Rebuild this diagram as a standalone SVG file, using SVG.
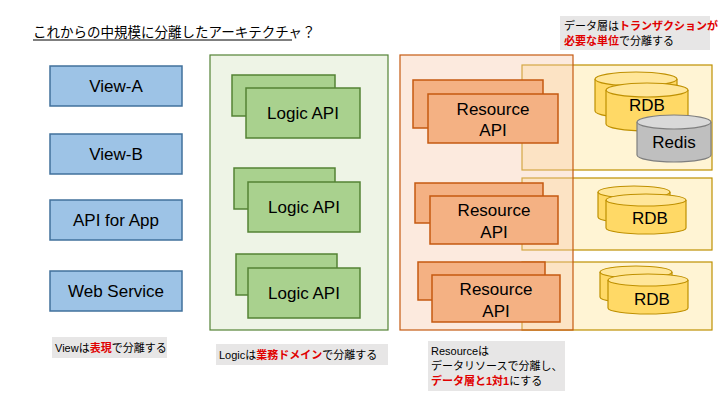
<svg xmlns="http://www.w3.org/2000/svg" width="720" height="405" viewBox="0 0 720 405">
<style>
text{font-family:"Liberation Sans","Noto Sans CJK JP",sans-serif;fill:#000}
.v{fill:#9dc3e6;stroke:#41719c;stroke-width:1.5}
.l{fill:#a9d18e;stroke:#548235;stroke-width:1.5}
.r{fill:#f4b183;stroke:#c55a11;stroke-width:1.5}
.n{fill:#e7e6e6}
.red{fill:#e00000;font-weight:bold}
.big{font-size:17px;text-anchor:middle}
.s{font-size:11px}
.cy{fill:#ffd966;stroke:#bf9000;stroke-width:1.2}
.cyt{fill:#ffe699;stroke:#bf9000;stroke-width:1.2}
.gy{fill:#bfbfbf;stroke:#7f7f7f;stroke-width:1.2}
.gyt{fill:#d9d9d9;stroke:#7f7f7f;stroke-width:1.2}
</style>
<rect width="720" height="405" fill="#fff"/>
<text x="33" y="37" font-size="13.5">これからの中規模に分離したアーキテクチャ？</text>
<line x1="33" y1="40" x2="292" y2="40" stroke="#000" stroke-width="1"/>
<g id="views">
<g id="view-a"><rect class="v" x="50" y="66" width="132" height="40"/><text class="big" x="116" y="92">View-A</text></g>
<g id="view-b"><rect class="v" x="50" y="134" width="132" height="40"/><text class="big" x="116" y="160">View-B</text></g>
<g id="api-app"><rect class="v" x="50" y="200" width="132" height="40"/><text class="big" x="116" y="226">API for App</text></g>
<g id="web"><rect class="v" x="50" y="271" width="132" height="40"/><text class="big" x="116" y="297">Web Service</text></g>
</g>
<g id="logic-panel"><rect x="210" y="55" width="178" height="275" fill="#eef4e6" stroke="#548235" stroke-width="1.2"/></g>
<g id="logic1"><rect class="l" x="232" y="75" width="103" height="41"/><rect class="l" x="246" y="88" width="114" height="50"/><text class="big" x="303" y="119">Logic API</text></g>
<g id="logic2"><rect class="l" x="234" y="168" width="101" height="41"/><rect class="l" x="248" y="182" width="112" height="50"/><text class="big" x="304" y="213">Logic API</text></g>
<g id="logic3"><rect class="l" x="236" y="254" width="101" height="41"/><rect class="l" x="248" y="268" width="112" height="50"/><text class="big" x="304" y="299">Logic API</text></g>
<g id="data-panels">
<rect x="522" y="65" width="190" height="105" fill="#fff2cc" fill-opacity="0.85" stroke="#bf9000" stroke-width="1.2"/>
<rect x="522" y="178" width="190" height="72" fill="#fff2cc" fill-opacity="0.85" stroke="#bf9000" stroke-width="1.2"/>
<rect x="522" y="262" width="190" height="68" fill="#fff2cc" fill-opacity="0.85" stroke="#bf9000" stroke-width="1.2"/>
</g>
<g id="resource-panel"><rect x="400" y="55" width="173" height="275" fill="#f8cbad" fill-opacity="0.4" stroke="#c55a11" stroke-width="1.2"/></g>
<g id="res1"><rect class="r" x="413" y="80" width="130" height="48"/><rect class="r" x="428" y="94" width="130" height="49"/><text class="big" x="493" y="115">Resource</text><text class="big" x="493" y="136">API</text></g>
<g id="res2"><rect class="r" x="415" y="183" width="128" height="40"/><rect class="r" x="430" y="196" width="128" height="48"/><text class="big" x="494" y="216">Resource</text><text class="big" x="494" y="238">API</text></g>
<g id="res3"><rect class="r" x="418" y="262" width="127" height="38"/><rect class="r" x="432" y="275" width="128" height="47"/><text class="big" x="496" y="295">Resource</text><text class="big" x="496" y="317">API</text></g>
<g id="db1">
<path class="cy" d="M595,79 v32 a41,7 0 0 0 82,0 v-32"/><ellipse class="cyt" cx="636" cy="79" rx="41" ry="7"/>
<path class="cy" d="M606,90 v34 a41,7 0 0 0 82,0 v-34"/><ellipse class="cyt" cx="647" cy="90" rx="41" ry="7"/>
<text class="big" x="647" y="111">RDB</text>
<path class="gy" d="M637,122 v33 a37,7 0 0 0 74,0 v-33"/><ellipse class="gyt" cx="674" cy="122" rx="37" ry="7"/>
<text class="big" x="674" y="148">Redis</text>
</g>
<g id="db2">
<path class="cy" d="M598,192 v25 a36,6 0 0 0 72,0 v-25"/><ellipse class="cyt" cx="634" cy="192" rx="36" ry="6"/>
<path class="cy" d="M606,200 v28 a40,6 0 0 0 80,0 v-28"/><ellipse class="cyt" cx="646" cy="200" rx="40" ry="6"/>
<text class="big" x="650" y="224">RDB</text>
</g>
<g id="db3">
<path class="cy" d="M600,272 v25 a36,6 0 0 0 72,0 v-25"/><ellipse class="cyt" cx="636" cy="272" rx="36" ry="6"/>
<path class="cy" d="M608,280 v28 a40,6 0 0 0 80,0 v-28"/><ellipse class="cyt" cx="648" cy="280" rx="40" ry="6"/>
<text class="big" x="652" y="305">RDB</text>
</g>
<g id="notes">
<rect class="n" x="52" y="337" width="115" height="21"/>
<text class="s" x="55" y="352">Viewは<tspan class="red">表現</tspan>で分離する</text>
<rect class="n" x="216" y="344" width="172" height="21"/>
<text class="s" x="219" y="359">Logicは<tspan class="red">業務ドメイン</tspan>で分離する</text>
<rect class="n" x="428" y="341" width="137" height="50"/>
<text class="s" x="431" y="355">Resourceは</text>
<text class="s" x="431" y="370">データリソースで分離し、</text>
<text class="s" x="431" y="385"><tspan class="red">データ層と1対1</tspan>にする</text>
<rect class="n" x="560" y="16" width="150" height="34"/>
<text class="s" x="564" y="30">データ層は<tspan class="red">トランザクションが</tspan></text>
<text class="s" x="564" y="45"><tspan class="red">必要な単位</tspan>で分離する</text>
</g>
</svg>
